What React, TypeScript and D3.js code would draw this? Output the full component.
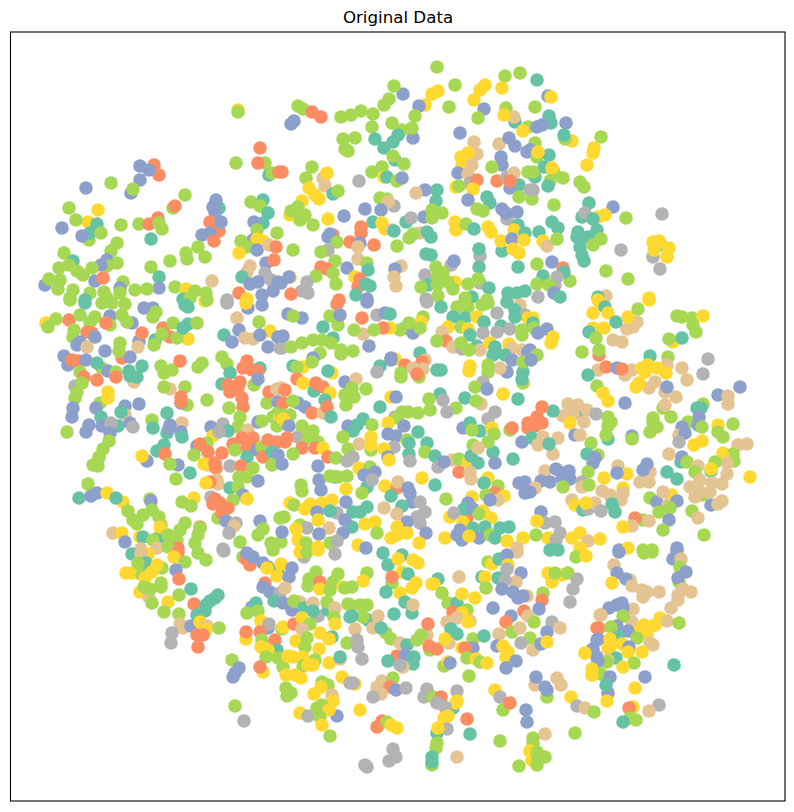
import React from 'react';
import * as d3 from 'd3';

// class ids, they index classColors (Set2, class 3 has no points)
const T = 0, O = 1, B = 2, G = 4, Y = 5, N = 6, A = 7;
const classColors = ['#66c2a5', '#fc8d62', '#8da0cb', '#e78ac3', '#a6d854', '#ffd92f', '#e5c494', '#b3b3b3'];

// embedding values: [x, y, class]
const northWest = [
[238,110,Y],[238,112,G],[260,148,O],[265,163,G],[258,163,O],[236,163,G],[269,175,T],[272,173,G],[279,172,O],
[154,165,O],[159,175,O],[140,166,B],[149,170,B],[140,180,B],[131,193,B],[133,189,G],[86,188,B],[111,183,G],
[69,208,G],[98,210,Y],[88,222,Y],[76,220,G],[97,224,T],[89,240,G],[90,233,T],[101,233,G],[82,236,B],[62,228,B],
[121,225,G],[139,224,G],[158,218,O],[149,224,O],[159,223,G],[162,229,G],[151,239,T],[185,195,G],[173,208,G],[175,206,O],
[219,208,T],[216,200,B],[213,207,B],[215,212,B],[219,231,O],[210,222,O],[221,222,B],[210,233,B],[202,235,B],[214,241,O],
[263,200,T],[251,202,G],[260,206,G],[268,213,T],[263,223,T],[254,222,B],[257,230,G],[277,233,G],
[253,240,B],[257,239,Y],[263,241,Y],[241,241,G],[247,247,G],[257,250,B],[269,245,N],[276,247,O],[239,253,Y],[266,263,B],[274,260,O],
[250,266,N],[247,272,N],[242,277,T],[265,273,A],[271,280,A],[258,282,B],[250,284,B],[278,282,B],[273,291,B],[239,293,O],[262,295,B],[247,299,Y],[227,300,A],[212,281,N],
[117,243,G],[111,251,G],[64,253,G],[73,261,T],[107,260,B],[117,263,G],[107,266,G],[101,265,B],[92,268,G],[59,268,G],[69,265,G],[77,271,G],[83,275,G],[45,285,B],[49,279,G],[60,280,G],[58,289,G],[73,290,G],[70,298,G],[95,281,B],[103,278,O],[123,282,G],[90,293,G],[104,292,G],[120,288,B],[120,293,G],[85,300,T],[107,298,G],
[186,253,G],[187,259,G],[198,247,G],[205,257,G],[170,261,G],[151,267,G],[159,277,T],[159,288,B],[135,290,G],[147,289,G],[175,287,G],[186,289,Y],[195,291,G],[206,293,G],[183,299,T],[190,298,G],
];
const northMiddle = [
[437,67,G],[505,76,G],[520,73,G],[455,85,G],[438,91,Y],[432,94,Y],[403,94,B],[394,86,G],[389,99,G],[384,105,G],[485,85,Y],[480,90,Y],[474,100,Y],[502,88,Y],
[425,105,Y],[419,106,B],[449,107,G],[484,109,B],[506,108,G],[478,118,G],[515,122,T],[514,117,N],[504,115,Y],[528,127,G],[523,131,Y],
[298,106,G],[303,109,G],[312,112,O],[321,117,O],[294,121,B],[291,124,B],
[341,117,G],[351,115,G],[361,111,G],[373,114,G],[372,127,G],[392,123,G],[415,116,G],[402,130,G],[398,135,T],[413,138,B],[412,128,G],[393,142,T],[375,139,T],[384,148,T],[395,160,T],[393,156,G],[404,164,G],
[343,139,G],[355,138,G],[345,149,G],[348,151,G],
[460,133,B],[474,142,N],[477,154,N],[499,144,N],[509,138,B],[515,146,B],[527,152,B],[468,153,Y],[461,157,Y],[462,165,Y],[501,157,B],[502,165,B],[492,167,G],[472,165,N],[458,173,B],[468,174,N],[470,183,A],[477,180,O],[456,187,Y],[459,186,G],[473,189,Y],
[497,181,O],[507,177,A],[514,173,N],[519,185,T],[510,188,B],[510,181,O],[519,197,G],[528,172,G],[530,190,A],
[312,167,G],[306,178,G],[282,172,O],[323,178,N],[325,186,N],[327,173,Y],[309,188,Y],[333,194,T],[338,191,G],[315,195,Y],[319,199,Y],[302,201,Y],
[372,172,G],[382,167,G],[384,177,Y],[387,177,T],[397,181,G],[402,178,B],[359,181,A],
[425,190,B],[416,193,N],[437,190,T],[436,201,T],[487,197,T],[490,203,T],[468,200,B],
[380,198,G],[387,199,G],[394,206,A],[388,202,N],[365,209,B],[381,210,B],[344,216,B],[328,219,Y],
[290,215,Y],[291,211,G],[298,207,G],[305,215,G],[300,220,G],[313,225,G],
[373,222,T],[382,223,Y],[385,229,Y],[392,230,N],[394,231,T],[406,222,T],[411,218,A],[424,217,B],[432,210,G],[442,213,G],[432,218,G],
[477,209,G],[483,211,G],[507,219,A],[502,209,B],[506,213,B],[517,212,B],[455,222,Y],[456,230,Y],[466,224,G],[474,229,T],[488,227,Y],[491,232,Y],[518,225,T],[514,230,Y],[525,233,T],
[361,227,O],[361,233,O],[420,233,N],[413,234,G],[409,238,G],[427,232,T],[431,237,T],
[333,235,O],[330,234,B],[328,237,B],[337,242,G],[350,242,O],[360,243,B],[374,245,O],[397,246,G],[358,247,N],[293,250,G],[328,250,A],[321,252,G],
[502,251,T],[501,241,Y],[512,239,B],[524,240,Y],[513,249,Y],[519,253,Y],[480,256,A],[479,249,T],
[426,254,T],[431,255,T],[358,259,N],[335,261,G],[367,263,G],[368,270,T],[347,268,B],[321,267,O],[327,269,O],[316,276,G],[333,273,G],[336,284,G],[290,277,Y],[289,277,B],[281,283,B],[307,282,A],[302,291,A],[308,293,A],[291,294,O],[339,300,O],
[355,277,Y],[360,279,O],[358,287,O],[366,284,T],[370,286,T],[356,295,T],[367,299,B],
[401,266,N],[395,269,B],[394,277,N],[396,286,N],
[451,265,A],[454,261,B],[479,267,T],[518,267,T],[436,267,G],[443,273,G],[425,275,A],[437,277,G],[428,285,T],[421,287,G],[437,285,G],[455,282,Y],[448,282,G],[453,289,G],[438,296,G],[426,299,A],
[480,283,A],[478,279,G],[468,284,G],[489,288,T],[472,297,T],[465,298,G],[487,300,G],[508,293,T],[517,293,T],[525,291,T],
];
const northEast = [
[537,80,T],[548,96,B],[551,97,Y],[535,107,G],[549,116,T],[551,123,T],[542,125,B],[537,127,B],[566,123,B],[572,141,Y],[565,139,G],[564,135,T],[601,137,G],[594,148,Y],[593,153,Y],[587,165,Y],
[535,143,G],[530,150,B],[537,157,G],[549,155,T],[538,152,Y],[544,167,T],[554,172,G],[552,168,Y],[535,177,T],[533,172,G],[563,178,G],[550,181,G],[548,186,T],[532,199,G],[533,190,A],[580,182,G],[584,187,G],[554,205,G],
[589,203,T],[613,207,B],[605,215,Y],[598,217,Y],[582,217,T],[585,213,A],[593,219,T],[626,218,G],[662,214,A],
[552,222,T],[558,228,T],[539,232,T],[543,241,Y],[547,246,N],[557,239,G],
[578,232,T],[577,237,T],[580,247,T],[582,255,T],[584,261,T],[588,237,T],[597,230,T],[601,239,G],[593,245,G],[621,250,A],
[661,245,G],[653,242,Y],[659,241,Y],[669,248,Y],[653,257,A],[654,250,Y],[667,257,Y],[660,269,A],
[537,264,G],[552,262,B],[563,268,O],[570,281,G],[564,272,T],[606,271,G],[628,279,G],[543,276,T],[557,277,A],[555,285,A],[537,284,G],[549,285,G],[554,293,B],[538,297,A],[560,297,T],[649,298,Y],[606,296,N],[598,297,T],[598,300,Y],
];
const middleWest = [
[46,323,Y],[48,327,G],[56,319,G],[69,320,O],[70,300,G],[85,303,T],[80,315,G],[95,317,G],[90,322,G],[110,316,B],[110,325,G],[106,323,O],[102,303,G],[112,303,G],[125,304,G],[122,315,G],[132,323,B],[127,322,G],[144,308,B],[153,308,B],[156,312,G],[153,317,G],
[74,330,G],[73,337,G],[87,332,O],[92,333,O],[95,337,B],[80,342,B],[77,345,B],[87,347,N],[105,351,B],[122,358,O],[130,357,B],[120,343,G],[119,351,G],[139,341,B],[142,333,O],[138,347,N],[155,340,T],[154,345,G],[163,328,O],[170,337,O],[162,334,G],[173,323,G],[188,339,Y],[177,338,G],[183,328,T],[188,324,T],[197,323,G],[185,305,T],[188,307,T],[205,301,Y],[207,300,G],[227,303,A],[248,308,B],[246,303,Y],[262,305,B],[237,318,N],[259,322,G],[270,331,Y],[239,330,B],[224,335,T],[232,342,B],[245,338,N],[253,339,N],[260,335,B],[268,347,B],[280,348,A],[278,337,B],
[64,356,B],[68,365,B],[72,360,O],[78,361,O],[86,360,B],[102,368,G],[97,363,T],[108,371,B],[80,372,G],[84,377,O],[97,380,O],[116,372,G],[116,377,O],
[75,386,A],[82,383,G],[77,392,G],[75,398,G],[100,403,G],[108,392,Y],[108,398,Y],
[134,382,N],[129,371,T],[142,366,T],[130,376,T],[137,377,T],
[161,366,G],[172,370,G],[164,373,G],[180,361,O],[198,367,G],[202,363,G],
[170,389,N],[164,387,G],[185,387,G],[187,405,G],[181,403,B],[181,397,O],[181,402,O],[207,400,G],
[222,357,G],[227,364,G],[230,373,T],[247,361,O],[243,368,O],[252,370,O],[260,368,T],[258,371,O],[254,385,G],[258,379,B],[222,384,T],[228,385,O],[230,392,O],[240,382,O],[238,388,O],[242,398,O],[243,407,O],[229,408,G],[267,403,G],[269,392,O],[277,389,N],[278,402,B],[278,413,G],
[73,408,B],[72,417,B],[96,408,B],[125,406,B],[139,404,B],[125,415,N],[121,412,T],[101,417,T],[102,426,B],[118,426,T],[111,423,A],[89,425,B],[86,432,B],[110,433,B],[130,423,B],[133,427,A],[67,432,G],[152,420,G],[153,428,T],[167,413,T],
[182,423,N],[167,433,T],[170,425,B],[169,428,B],[181,432,B],[182,437,T],
[109,441,G],[103,449,G],[99,457,G],[93,465,G],[98,466,G],
[164,445,T],[157,451,T],[165,454,O],[147,461,B],[142,456,Y],[178,465,B],[170,464,G],[190,473,T],[176,479,G],
[211,427,B],[240,417,G],[238,427,G],[223,424,A],[228,431,T],[213,436,Y],[219,432,A],[248,430,N],[258,422,B],[262,421,G],[273,417,G],[280,418,Y],[277,426,G],
[197,446,B],[207,443,G],[200,444,O],[208,452,O],[194,455,G],[208,465,N],[204,464,Y],[222,453,O],[215,463,O],[216,468,O],[230,466,A],[233,444,O],[242,438,O],[253,438,O],[235,450,G],[247,447,O],[247,457,T],[241,466,O],[257,450,B],[262,447,G],[268,440,O],[277,442,O],[263,457,O],[272,452,T],[278,455,B],[272,465,G],
[253,468,G],[247,477,G],[239,477,G],[217,480,N],[218,484,N],[210,482,O],[206,483,Y],[258,481,B],[230,488,T],[238,487,G],[243,495,B],[233,500,G],[247,499,Y],[211,497,A],
[88,484,G],[79,498,T],[91,496,B],[97,493,B],[107,493,Y],[123,502,Y],[116,498,T],[128,511,G],
[150,499,G],[151,501,B],[152,510,G],[143,515,G],[133,520,G],[137,524,G],[159,517,G],[161,525,G],
[194,498,Y],[182,502,G],[191,506,G],[218,518,G],[215,499,O],[220,503,O],[213,504,O],[228,508,O],[222,513,O],
[226,521,B],[236,523,A],[234,526,N],[229,533,A],[260,521,B],[263,529,G],[258,535,G],[240,542,G],[271,543,G],[280,518,G],
[113,533,N],[122,533,Y],[125,542,B],[140,537,Y],[143,537,T],[158,538,T],[153,540,G],[160,527,Y],[168,535,G],[180,530,G],[185,523,G],[177,540,G],[178,548,O],[141,549,N],[195,543,G],[200,527,O],[200,528,G],[198,535,G],[157,548,N],[223,549,A],[168,547,G],
];
const middleCenter = [
[337,304,O],[367,302,B],[427,302,A],[441,307,T],[457,307,G],[468,307,G],[482,305,G],[488,303,G],[507,302,T],[520,305,N],[515,310,T],
[288,314,B],[302,318,B],[293,316,G],[330,316,G],[338,325,G],[340,315,B],[362,318,O],[377,315,A],[385,313,B],[390,314,T],[323,327,T],
[423,317,G],[421,322,Y],[405,328,T],[413,333,B],[420,328,G],[409,323,G],[400,330,G],[390,328,Y],[383,328,O],[363,334,N],[374,330,G],[354,330,G],
[453,317,T],[465,318,T],[448,327,Y],[461,327,G],[477,317,Y],[484,322,T],[468,329,Y],[470,335,T],[497,313,A],[501,326,T],[483,333,A],[497,332,A],[510,329,A],[525,315,A],[528,318,Y],[522,330,G],[515,317,T],
[442,332,N],[446,341,O],[437,341,G],[453,347,N],[462,349,A],[461,343,G],[477,346,T],[480,350,N],[469,350,G],[490,343,Y],[493,355,T],[495,347,T],[509,344,Y],[512,348,N],[522,335,G],[522,350,N],[528,352,B],
[282,348,A],[283,336,B],[291,347,G],[302,343,G],[333,338,T],[313,340,G],[322,340,G],[331,343,G],[320,353,G],[341,350,G],[341,354,G],[353,351,G],[369,346,B],
[313,358,B],[293,366,T],[303,367,Y],[297,367,G],[312,362,G],[332,373,Y],[328,371,T],
[380,366,T],[377,372,A],[395,359,Y],[391,358,B],[391,360,B],[420,353,T],[405,365,O],[425,360,N],[422,362,O],[413,368,N],[423,369,N],[401,373,G],[401,377,G],[419,377,G],[417,374,O],[437,370,T],[441,370,T],
[470,366,Y],[469,371,Y],[505,355,T],[512,360,B],[507,372,B],[500,368,N],[488,365,G],[488,372,G],[523,372,T],[523,383,G],[522,379,T],[523,362,G],
[297,379,O],[303,383,Y],[345,382,B],[356,379,N],[366,389,G],[314,391,T],[316,383,O],[323,387,O],[330,393,Y],[352,388,G],[345,395,G],[354,397,G],[346,405,G],
[483,382,A],[475,387,G],[487,389,B],[503,394,Y],[518,399,T],[465,398,T],[440,394,T],[429,399,G],[443,400,A],[481,404,N],[476,401,G],
[391,397,Y],[396,397,B],[380,407,T],[456,408,G],[447,412,A],[430,410,G],[418,413,G],[408,412,G],[402,412,G],[395,417,A],[397,418,G],[404,426,B],[388,423,Y],[418,432,T],
[281,388,N],[285,390,O],[283,403,O],[298,403,B],[305,407,B],[293,401,G],[312,413,O],[325,400,T],[323,413,N],[327,407,O],[331,417,T],[290,415,G],[282,415,G],[283,419,Y],[289,426,B],
[495,412,A],[488,419,A],[463,428,B],[470,423,T],[480,431,T],[472,430,G],[492,428,Y],[493,452,T],[494,434,G],[488,442,G],[510,430,G],[512,428,O],[522,442,B],[528,423,O],[528,428,O],[513,459,T],
[298,437,A],[302,426,G],[313,431,G],[287,438,O],[285,442,O],[308,438,G],[318,442,G],[302,448,O],[293,454,G],[315,448,O],[323,448,Y],[328,457,O],[336,458,G],[318,466,B],[282,464,B],
[348,426,B],[363,419,T],[357,425,T],[353,431,T],[372,425,G],[343,437,G],[348,449,G],[359,444,N],[371,450,G],[371,437,Y],[371,445,Y],[353,457,A],[347,461,A],
[388,434,B],[396,436,B],[407,440,G],[409,443,T],[394,447,A],[384,449,Y],[388,457,B],[389,460,Y],[409,454,T],[410,461,A],
[427,443,T],[425,452,G],[435,456,T],[438,467,A],[452,460,N],[444,462,B],[473,445,G],[459,459,G],[468,462,Y],[471,456,T],[478,448,N],[478,463,T],[495,463,B],
[359,468,Y],[370,467,G],[367,487,T],[375,472,B],[364,475,B],[372,480,A],[362,493,G],[459,472,O],[470,472,N],[471,479,N],[422,478,Y],[435,485,T],[446,499,G],
[301,485,G],[302,491,G],[319,480,B],[321,490,B],[335,477,T],[330,476,G],[338,477,G],[347,476,G],[346,489,Y],
[290,503,Y],[294,505,G],[305,509,Y],[310,504,Y],[322,503,Y],[332,500,Y],[346,502,B],[337,513,A],[330,511,T],[317,512,B],[329,528,N],[318,520,Y],[284,517,G],
[385,486,Y],[397,488,O],[398,482,N],[408,488,B],[410,493,B],[391,496,T],[412,502,B],[420,502,A],[402,506,T],[384,508,N],[397,514,N],[425,512,A],[417,517,A],[420,523,A],[407,522,B],[426,533,B],
[353,512,T],[360,512,T],[367,507,T],[365,524,Y],[375,522,Y],[352,527,T],[377,533,G],[397,527,Y],[397,535,Y],[407,533,Y],[391,538,Y],[419,543,Y],[445,538,Y],
[345,520,B],[319,534,B],[300,525,G],[307,528,A],[296,529,Y],[298,540,Y],[306,543,G],[343,533,B],[330,543,G],[337,541,A],[358,545,Y],[366,548,B],[281,542,G],[282,532,B],[318,547,Y],
[488,478,Y],[484,483,T],[498,486,G],[495,493,O],[486,495,G],[504,496,Y],[472,497,Y],[498,500,N],[490,500,B],[519,483,B],[525,482,B],[525,493,B],
[467,517,O],[468,503,B],[464,509,T],[473,509,B],[450,517,Y],[454,513,A],[483,511,Y],[479,514,G],[491,518,Y],[463,522,Y],[473,528,T],[485,527,T],[460,530,B],[457,535,B],[462,540,B],[479,538,B],[469,536,Y],[490,535,G],[495,538,T],[500,528,T],[509,527,T],[507,541,Y],[523,538,Y],[517,548,N],
];
const middleEast = [
[593,313,Y],[600,303,Y],[605,307,T],[608,313,Y],[637,322,N],[633,327,N],[627,329,N],[616,322,T],[628,317,Y],[638,309,G],[649,300,Y],
[593,328,Y],[604,328,Y],[589,332,T],[596,338,G],[613,340,N],[622,342,N],[582,352,G],[599,355,O],[599,350,G],
[533,318,Y],[533,323,T],[534,328,G],[538,333,B],[547,329,B],[553,337,Y],[551,343,Y],[530,350,B],[537,355,G],[531,360,B],
[677,316,G],[682,317,G],[692,318,G],[703,316,Y],[693,325,G],[696,332,G],[673,342,Y],[669,339,G],[682,338,T],[668,357,G],[650,356,T],
[708,359,A],[703,374,A],[682,368,N],[687,380,N],
[598,370,N],[606,367,O],[625,375,N],[632,370,N],[617,368,B],[622,369,O],[588,375,T],[597,386,G],[667,365,N],[655,382,N],[649,388,N],[642,368,Y],[648,365,Y],[657,368,Y],[666,373,Y],[645,372,Y],[639,383,Y],[636,387,Y],[665,392,N],[676,397,N],[667,387,B],
[603,393,Y],[608,401,Y],[625,403,B],[718,395,B],[740,387,B],[728,396,N],[728,404,N],[703,404,G],[697,408,T],[701,408,T],[663,408,G],[665,405,N],[699,417,B],[671,417,G],[653,418,G],[688,422,G],[698,425,B],[702,427,G],[718,425,Y],[733,424,G],
[568,404,N],[563,416,N],[580,411,T],[578,405,N],[587,410,N],[573,415,N],[596,414,A],[570,423,Y],[584,422,N],[553,411,T],[542,407,O],[537,417,O],[542,423,O],[535,426,O],[532,438,T],
[608,417,G],[611,422,G],[608,426,G],[608,439,T],[606,435,G],[575,435,B],[580,435,N],[632,436,B],[632,439,G],
[653,423,G],[657,427,G],[650,432,G],[682,427,B],[679,435,N],[685,433,B],[679,442,A],[694,445,Y],[702,441,Y],[718,432,G],[723,437,G],[738,445,N],[747,444,N],
[558,438,N],[538,445,N],[543,437,N],[553,454,N],[549,444,T],[591,443,G],[598,455,G],[587,454,T],[595,458,B],[593,463,B],[669,454,N],[723,453,Y],[733,454,G],[723,457,Y],[734,461,G],[681,462,T],[682,457,B],[687,462,G],[727,463,N],[715,462,G],
[698,466,N],[711,471,T],[711,469,Y],[695,472,G],[750,477,Y],[727,474,N],[722,484,N],[712,483,N],[702,495,G],[690,487,N],[700,480,N],[710,492,N],[700,492,N],[695,497,N],[711,505,B],[718,504,N],[722,501,N],
[618,466,N],[627,474,Y],[617,473,B],[650,472,N],[640,482,N],[649,482,N],[647,464,B],[643,470,B],[667,472,T],[677,479,T],
[545,471,N],[556,469,B],[563,473,B],[569,471,B],[570,479,B],[562,478,B],[541,481,B],[550,482,B],[535,488,N],[530,492,B],[563,487,G],
[588,472,G],[582,482,A],[582,487,N],[589,485,G],[604,478,Y],[602,491,N],[610,495,N],[623,488,Y],[623,493,N],[621,500,N],
[572,500,N],[575,505,Y],[583,510,T],[588,509,A],[595,503,N],[586,503,Y],[601,511,A],[612,504,T],[615,512,T],
[650,498,G],[657,502,B],[672,495,Y],[663,492,N],[668,505,N],[677,501,B],[659,512,G],[670,508,G],[669,520,B],[663,530,G],[643,520,G],[649,521,N],[635,518,O],[632,526,N],[623,527,Y],
[692,511,G],[698,518,N],[704,535,G],
[541,512,B],[545,523,A],[555,522,A],[537,521,Y],[560,533,A],[548,538,Y],[556,540,A],[536,535,G],[572,538,Y],[580,533,Y],[588,541,N],[600,539,Y],[550,550,T],[558,550,T],[580,548,Y],[619,550,B],[628,548,Y],[643,550,G],[652,550,G],[677,548,B],
];
const southWest = [
[132,554,T],[148,554,Y],[141,553,N],[178,552,O],[174,557,Y],[185,562,G],[176,570,B],[179,579,O],[198,553,G],[206,560,G],[224,551,A],
[126,573,Y],[132,573,Y],[146,563,T],[138,563,G],[142,575,G],[162,568,G],[157,565,Y],[152,572,Y],[145,578,Y],
[140,592,Y],[149,597,N],[144,587,G],[150,589,G],[161,583,G],[161,587,G],[152,603,G],[168,602,Y],[179,595,G],[191,589,T],[164,612,G],[179,614,G],
[194,604,O],[218,595,T],[215,598,T],[210,601,T],[206,605,T],[205,611,T],[197,615,T],[180,624,N],[183,628,N],[191,626,B],[200,622,Y],[207,626,N],[206,630,Y],[219,628,G],[203,635,O],[197,635,O],[198,647,O],[172,633,A],[171,643,A],
[243,557,G],[246,559,O],[250,565,O],[247,553,B],[253,557,B],[263,563,B],[268,567,B],[278,570,T],[267,568,Y],[281,564,Y],[277,576,Y],[292,568,B],[289,577,B],[273,550,G],[304,557,A],[300,552,Y],[307,552,G],[318,550,Y],[335,554,A],
[265,583,O],[263,587,B],[270,592,B],[280,593,A],[285,588,N],[274,601,T],[283,603,B],[292,610,B],[300,602,N],[294,601,G],[304,608,T],[313,603,N],[318,616,A],[313,611,T],
[316,572,G],[309,579,G],[308,586,G],[320,582,O],[320,589,Y],[333,582,G],[338,574,G],[343,587,Y],[330,590,G],[345,588,G],[328,610,T],[327,602,G],[335,608,N],[348,604,G],[334,617,G],[335,624,Y],[350,617,T],
[252,607,B],[256,603,T],[247,613,G],[258,611,G],[261,621,Y],[268,628,B],[269,624,A],[246,639,Y],[246,632,O],[260,632,O],[262,640,G],[275,640,O],[261,647,Y],[277,650,T],[268,650,Y],[266,657,G],[282,629,G],[283,627,Y],[294,624,O],[302,618,Y],[310,624,G],[302,629,N],[320,633,Y],[332,637,T],[329,639,Y],[296,641,Y],[307,638,G],[305,647,G],[319,649,Y],[347,643,G],
[278,658,G],[283,667,G],[288,656,Y],[293,657,Y],[303,657,Y],[303,666,G],[315,660,G],[308,665,Y],[313,665,Y],[329,663,Y],[340,659,N],[340,657,T],
[263,672,Y],[260,667,O],[232,660,G],[239,668,B],[235,673,B],[233,677,B],
[286,675,Y],[295,675,Y],[301,678,Y],[342,677,Y],[350,683,A],[322,682,G],[328,685,G],[321,687,Y],[332,695,N],[314,694,Y],[333,701,Y],[286,688,G],[291,693,G],[287,696,G],
[235,706,G],[244,721,A],[300,713,Y],[308,716,A],[317,708,G],[322,705,G],[337,716,B],[329,710,Y],[320,717,G],[322,725,Y],[330,736,G],
];
const southMiddle = [
[383,553,T],[388,565,T],[402,555,T],[398,559,Y],[413,560,Y],[418,563,Y],[402,572,Y],[408,574,T],[367,573,G],[363,581,Y],[392,583,G],[392,577,O],[352,587,G],[416,583,Y],[412,588,Y],[400,593,Y],[386,592,T],
[405,602,T],[412,613,T],[413,605,N],[394,614,T],[360,605,G],[367,605,G],[350,605,G],[368,620,T],[363,617,G],[378,616,N],[352,616,T],[355,629,N],[373,628,N],[386,633,G],[391,639,G],[381,628,T],[357,640,A],[358,647,A],[362,659,A],
[400,643,N],[397,656,O],[407,645,T],[388,661,T],[405,655,B],[414,657,T],[413,664,T],[403,667,N],[400,665,A],
[427,635,N],[428,624,O],[421,635,G],[417,640,G],[430,650,G],[429,646,O],[437,649,O],
[438,579,T],[434,584,Y],[432,584,Y],[442,593,G],[448,603,G],[459,577,N],[457,603,T],[453,612,O],[462,594,Y],[475,598,Y],[467,610,G],[462,613,Y],[457,618,N],[447,622,N],[470,621,N],[468,622,Y],
[451,629,T],[457,634,T],[449,643,N],[445,639,Y],[473,639,G],[473,648,B],[462,648,Y],[465,648,O],[467,658,G],[476,659,Y],[480,662,G],[487,663,Y],[484,636,T],[444,666,G],[448,662,Y],[450,663,B],[469,676,G],
[488,562,G],[492,564,Y],[499,559,T],[517,552,N],[507,555,B],[508,565,Y],[507,569,A],[498,578,T],[482,577,T],[485,577,Y],[486,588,G],[521,573,B],[516,582,N],[505,580,A],[502,589,B],[527,596,N],[513,592,B],[518,598,B],[523,596,B],[543,593,G],[542,600,O],[539,609,B],[493,608,B],
[524,611,O],[528,616,N],[511,616,B],[506,622,O],[534,622,G],[512,632,G],[520,628,N],[552,622,A],[547,632,B],[560,628,N],[499,634,N],[530,638,G],[521,643,A],[533,650,N],[541,644,B],[547,642,Y],[497,646,B],[503,646,Y],[508,652,Y],[506,657,Y],[516,661,B],[506,668,B],
[552,582,Y],[548,573,Y],[562,575,Y],[555,573,G],[568,573,G],[577,579,A],[573,589,A],[570,602,A],[600,615,N],[597,628,O],[597,640,B],[592,650,B],[585,653,Y],[597,657,B],[598,673,G],[593,670,Y],[592,675,Y],
[535,685,N],[536,677,B],[545,687,B],[557,678,N],[561,685,N],[547,697,G],[547,690,B],[571,697,Y],
[355,684,Y],[353,683,A],[382,681,N],[377,687,N],[393,678,G],[390,687,O],[396,690,B],[406,688,A],[381,694,N],[373,697,A],[360,710,Y],
[427,689,A],[424,697,A],[433,697,G],[441,697,O],[437,703,A],[457,691,A],[453,708,T],[457,701,Y],[456,703,Y],[445,707,A],[448,716,Y],[444,718,Y],[437,733,T],[447,729,A],[438,728,Y],[467,719,O],[470,734,T],
[495,690,Y],[500,697,A],[503,710,G],[510,703,O],[526,710,B],[527,722,B],[577,706,A],[585,708,N],[594,712,G],
[382,721,O],[377,727,O],[387,722,G],[391,725,Y],[397,728,Y],
[393,749,A],[396,757,A],[389,761,A],[365,765,A],[367,767,A],
[437,743,G],[436,748,G],[432,765,G],[432,757,T],[432,762,T],
[457,757,N],[500,741,G],[545,734,N],[575,733,G],[533,738,G],[533,743,G],[530,751,Y],[532,760,Y],[537,752,G],[545,757,G],[538,758,G],[537,765,G],[519,766,G],
];
const southEast = [
[576,557,G],[586,556,Y],[619,552,B],[644,553,G],[652,552,G],[677,551,B],[673,559,B],[681,559,N],[614,565,N],[680,567,G],[686,572,B],[679,582,G],[678,578,B],
[630,580,N],[617,573,B],[626,579,B],[612,583,Y],[632,586,N],[642,590,N],[647,592,N],[643,597,N],[659,592,N],[691,592,N],[683,589,N],[678,595,N],[678,600,N],[671,608,N],
[633,609,N],[609,608,B],[622,603,B],[617,605,B],[623,608,B],[601,615,N],[632,622,N],[623,616,G],[660,618,Y],[655,625,Y],[667,621,N],[679,623,G],[644,625,Y],[637,632,Y],[647,633,Y],
[599,628,O],[617,626,B],[611,627,G],[628,631,B],[618,637,T],[637,638,G],[598,639,B],[610,639,Y],[622,644,Y],[610,647,Y],[650,643,N],[653,645,N],[629,647,B],[628,652,Y],[642,652,Y],[593,649,B],[585,653,Y],[608,648,Y],[616,658,T],[608,660,N],[607,662,G],[598,661,B],[634,663,G],[623,667,Y],[674,665,T],
[601,674,G],[592,669,Y],[592,675,Y],[610,677,B],[645,677,B],[608,693,B],[606,685,T],[635,688,Y],[607,701,Y],
[659,705,A],[633,707,Y],[629,708,O],[649,711,N],[630,718,G],[636,720,G],[623,722,T],
];

const regions = [northWest, northMiddle, northEast, middleWest, middleCenter, middleEast, southWest, southMiddle, southEast];
const points = regions.flat();

const width = 794;
const height = 812;
const frame = { left: 10.5, right: 785, top: 32, bottom: 801 };

const x = d3.scaleLinear().domain([10.5, 785]).range([frame.left, frame.right]);
const y = d3.scaleLinear().domain([32, 801]).range([frame.top, frame.bottom]);

export default function App() {
  return (
    <svg width={width} height={height} style={{ position: 'absolute', left: 0, top: 0 }}>
      <rect width={width} height={height} fill="#fff" />
      <text x={398} y={23} textAnchor="middle" fontFamily="DejaVu Sans" fontSize={16.67}>Original Data</text>
      {points.map((d, i) => (
        <circle key={i} cx={x(d[0])} cy={y(d[1])} r={6.8} fill={classColors[d[2]]} />
      ))}
      <rect
        x={frame.left}
        y={frame.top}
        width={frame.right - frame.left}
        height={frame.bottom - frame.top}
        fill="none"
        stroke="#000"
        strokeWidth={1.1}
      />
    </svg>
  );
}
